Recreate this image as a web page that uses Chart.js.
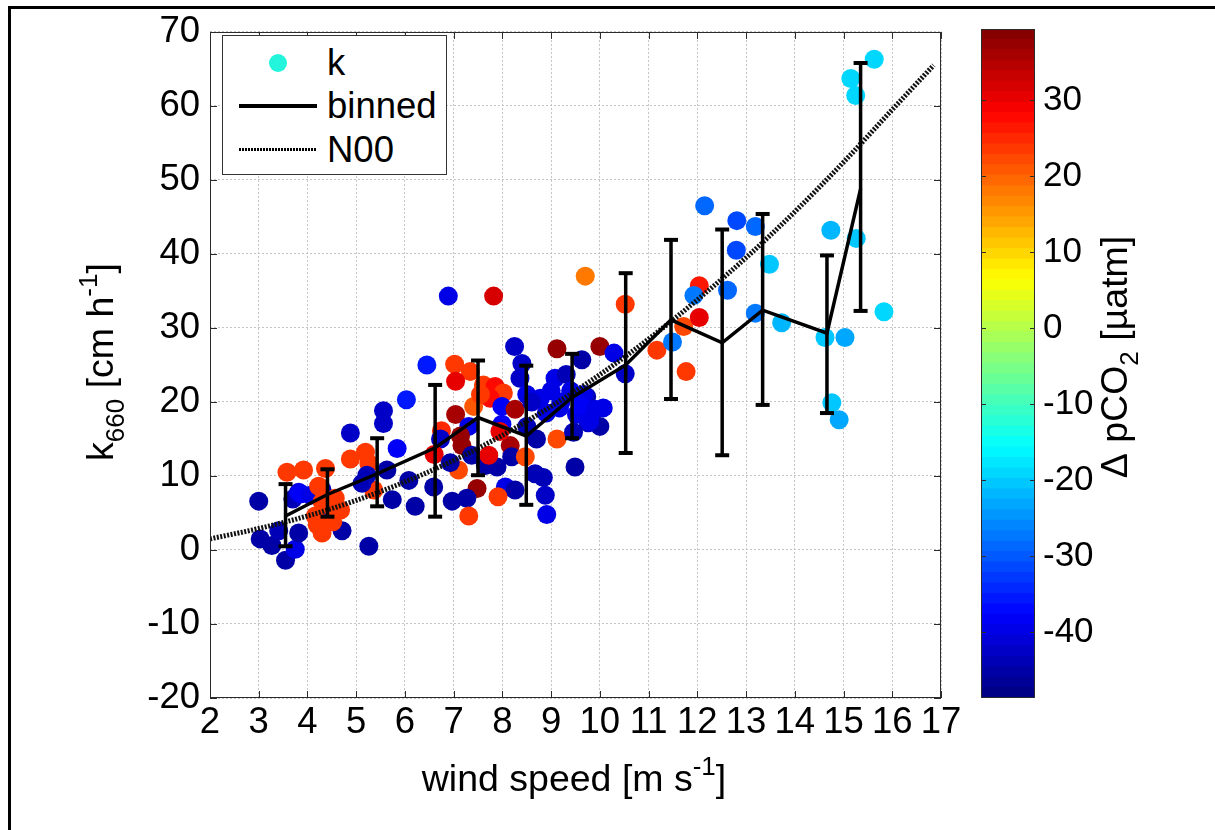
<!DOCTYPE html>
<html><head><meta charset="utf-8">
<script src="https://cdn.jsdelivr.net/npm/chart.js@4.4.0/dist/chart.umd.min.js"></script>
<style>
html,body{margin:0;padding:0;background:#fff;}
#wrap{position:relative;width:1215px;height:830px;overflow:hidden;background:#fff;font-family:"Liberation Sans",Arial,Helvetica,sans-serif;}
#frame{position:absolute;left:8px;top:6px;width:1230px;height:850px;border-left:3px solid #000;border-top:3px solid #000;}
#main{position:absolute;left:0;top:0;}
#cbar{position:absolute;left:960px;top:0;}
#legend{position:absolute;left:222px;top:35px;width:223px;height:138px;border:1px solid #333;background:#fff;z-index:5;}
#legend .t{position:absolute;left:104px;font-size:36.5px;line-height:36px;color:#000;white-space:nowrap;}
#legend .dot{position:absolute;left:46px;top:18px;width:18px;height:18px;border-radius:50%;background:#22f5dc;}
#legend .solid{position:absolute;left:16px;top:68px;width:78px;height:3.5px;background:#000;}
#legend .dotted{position:absolute;left:16px;top:112px;width:78px;height:3px;background:repeating-linear-gradient(90deg,#000 0 2px,#fff 2px 3px);}
</style></head>
<body>
<div id="wrap">
  <div id="frame"></div>
  <canvas id="main" width="975" height="830"></canvas>
  <canvas id="cbar" width="255" height="830"></canvas>
  <div id="legend">
    <div class="dot"></div><div class="t" style="top:9px">k</div>
    <div class="solid"></div><div class="t" style="top:52px">binned</div>
    <div class="dotted"></div><div class="t" style="top:96px">N00</div>
  </div>
</div>
<script>
// ---------------- data ----------------
const xTicks = [2,3,4,5,6,7,8,9,10,11,12,13,14,15,16,17];
const yTicks = [-20,-10,0,10,20,30,40,50,60,70];
const cbTicks = [-40,-30,-20,-10,0,10,20,30];
const CB_MIN = -48.7, CB_MAX = 39.4;

// scatter: wind speed, k660, delta pCO2
const ptX = [3.00,3.03,3.27,3.41,3.55,3.75,3.82,3.70,3.82,3.86,4.06,4.30,4.44,4.71,5.26,
  3.58,3.92,4.37,4.23,4.57,4.68,4.30,4.16,4.45,4.30,4.88,5.19,5.26,5.36,
  5.22,5.12,5.63,5.74,5.84,6.08,6.03,5.56,5.56,4.88,
  6.89,7.82,8.25,6.45,7.02,7.34,7.04,8.40,8.36,7.61,7.85,8.02,7.41,7.75,7.99,7.04,8.26,
  7.31,7.14,7.17,6.75,6.73,6.60,8.16,8.19,8.47,7.37,7.65,7.89,7.72,7.10,6.93,
  6.59,7.48,8.06,8.26,8.67,8.84,8.88,9.49,7.91,6.97,7.27,6.21,7.31,8.91,
  8.50,8.78,9.08,9.31,9.73,10.07,10.00,9.76,9.52,7.99,8.50,8.70,9.12,9.46,
  9.12,10.00,9.63,10.29,10.52,9.67,9.17,9.79,9.00,9.20,8.90,9.60,9.90,9.40,9.70,10.52,8.60,
  4.52,4.20,7.55,7.95,
  11.17,11.49,11.72,11.77,12.04,11.93,12.04,12.15,12.81,13.19,12.80,13.48,12.62,13.19,13.73,
  14.74,15.26,14.62,15.03,14.76,14.91,15.15,15.25,15.63,15.83];
const ptY = [6.6,1.5,0.6,2.6,-1.4,0.1,2.3,6.9,7.8,7.6,7.4,8.1,4.8,2.6,0.5,
  10.5,10.8,11.0,8.6,7.0,5.4,2.3,4.6,6.0,6.5,12.3,13.2,11.7,8.1,
  10.1,9.0,10.8,6.8,13.7,9.4,20.3,18.8,17.1,15.8,
  34.3,34.3,27.5,25.0,25.1,24.1,22.8,25.2,23.2,22.3,22.1,21.2,19.4,20.5,19.4,18.3,19.0,
  16.7,15.4,14.1,16.1,15.0,12.9,14.1,12.6,12.6,12.8,11.4,11.2,12.8,10.8,11.8,
  8.5,8.3,8.5,8.1,10.3,9.8,7.4,11.2,7.2,6.6,7.0,5.9,4.6,4.8,
  21.0,20.5,23.2,23.7,20.7,19.2,16.7,17.2,18.3,17.0,16.7,15.0,15.0,15.9,
  27.2,27.5,25.7,26.6,23.8,21.0,19.2,17.4,21.5,20.0,18.5,19.5,19.0,21.5,37.0,33.2,20.0,
  3.8,3.4,21.0,16.0,
  27.0,28.1,30.2,24.1,35.7,34.4,31.4,46.5,44.5,43.7,40.5,38.6,35.1,32.0,30.7,
  43.2,42.1,28.7,28.7,19.9,17.6,63.7,61.4,66.3,32.2];
const ptD = [-45,-45,-45,-44,-45,-40,-45,-44,-40,-38,-40,-44,-40,-45,-45,
  23,23,23,23,23,23,23,23,23,23,23,23,23,23,
  -44,-44,-45,-45,-38,-45,-36,-42,-42,-42,
  -40,32,-43,-36,23,23,30,-42,-42,23,28,23,21,28,-38,36,36,
  -40,37,37,25,-42,30,36,-45,22,-45,-45,-45,30,22,-45,
  -45,37,-40,-45,-44,-44,-42,-45,24,-45,-45,-45,24,-40,
  -40,-40,-40,-44,-44,-40,-45,-42,-40,-38,-44,-45,22,-44,
  37,37,-45,-40,-42,-40,-40,-40,-40,-40,-40,-38,-40,-40,18,24,-42,
  23,23,23,30,
  23,-28,22,23,26,-28,31,-29,-31,-29,-31,-21,-29,-28,-22,
  -22,-21,-20,-23,-21,-23,-19,-19,-19,-19];

// binned means with error bars
const binX  = [3.55,4.41,5.43,6.62,7.50,8.49,9.43,10.53,11.46,12.51,13.34,14.66,15.35];
const binY  = [4.6,7.5,10.3,13.8,17.9,15.4,20.6,25.0,31.1,28.0,32.4,29.3,48.8];
const binLo = [0.5,4.5,5.9,4.5,10.1,6.1,15.1,13.1,20.4,12.8,19.6,18.5,32.3];
const binHi = [8.9,10.9,15.1,22.3,25.6,24.9,26.5,37.4,41.9,43.3,45.4,39.8,65.8];

// N00 curve
const n00X = [2,3,4,5,6,7,8,9,10,11,12,13,14,15,16,16.85];
const n00Y = [1.5,2.9,4.6,6.7,9.2,12.1,15.5,19.4,23.7,28.5,33.8,39.5,45.7,52.4,59.5,65.5];

// ---------------- helpers ----------------
const FONT = '"Liberation Sans", Arial, Helvetica, sans-serif';
const FS = 36.5;   // tick labels
const FT = 37.5;   // axis titles
function clamp(v){return Math.max(0,Math.min(1,v));}
function jet(t){
  const r = clamp(1.5-Math.abs(4*t-3)), g = clamp(1.5-Math.abs(4*t-2)), b = clamp(1.5-Math.abs(4*t-1));
  return 'rgb('+Math.round(r*255)+','+Math.round(g*255)+','+Math.round(b*255)+')';
}
const NLEV = 64;
function colorFor(d){
  let i = Math.floor((d-CB_MIN)/(CB_MAX-CB_MIN)*NLEV);
  i = Math.max(0,Math.min(NLEV-1,i));
  return jet((i+0.5)/NLEV);
}
function drawRich(ctx, parts, cx, by, rot, size){
  ctx.save();
  ctx.translate(cx, by); ctx.rotate(rot);
  const small = Math.round(size*0.7);
  let w = 0;
  parts.forEach(p=>{ctx.font=(p.s?small:size)+'px '+FONT; p.w=ctx.measureText(p.t).width; w+=p.w;});
  let x = -w/2;
  ctx.fillStyle='#000'; ctx.textAlign='left'; ctx.textBaseline='alphabetic';
  parts.forEach(p=>{
    ctx.font=(p.s?small:size)+'px '+FONT;
    const dy = p.s==='sub'? size*0.28 : (p.s==='sup'? -size*0.42 : 0);
    ctx.fillText(p.t, x, dy); x+=p.w;
  });
  ctx.restore();
}

// ---------------- main chart ----------------
const scatterData = ptX.map((x,i)=>({x:x, y:ptY[i]}));
const scatterColors = ptD.map(colorFor);
const errData = [];
binX.forEach((x,i)=>{ errData.push({x:x,y:binLo[i]}); errData.push({x:x,y:binHi[i]}); errData.push({x:x,y:null}); });
const binData = binX.map((x,i)=>({x:x,y:binY[i]}));
const n00Data = n00X.map((x,i)=>({x:x,y:n00Y[i]}));

const boxPlugin = {
  id:'boxPlugin',
  afterDraw(chart){
    const {ctx, chartArea:a, scales:{x,y}} = chart;
    ctx.save();
    ctx.strokeStyle='#2b2b2b'; ctx.lineWidth=1;
    ctx.strokeRect(Math.round(a.left)+0.5, Math.round(a.top)+0.5, Math.round(a.right-a.left)-1, Math.round(a.bottom-a.top)-1);
    ctx.beginPath();
    xTicks.forEach(v=>{const p=Math.round(x.getPixelForValue(v))+0.5; ctx.moveTo(p,a.bottom); ctx.lineTo(p,a.bottom-7); ctx.moveTo(p,a.top); ctx.lineTo(p,a.top+7);});
    yTicks.forEach(v=>{const p=Math.round(y.getPixelForValue(v))+0.5; ctx.moveTo(a.left,p); ctx.lineTo(a.left+7,p); ctx.moveTo(a.right,p); ctx.lineTo(a.right-7,p);});
    ctx.stroke();
    drawRich(ctx,[{t:'k'},{t:'660',s:'sub'},{t:' [cm h'},{t:'-1',s:'sup'},{t:']'}], 113, 362, -Math.PI/2, FT);
    drawRich(ctx,[{t:'wind speed [m s'},{t:'-1',s:'sup'},{t:']'}], 574, 791, 0, FT);
    ctx.restore();
  }
};

new Chart(document.getElementById('main'), {
  type:'scatter',
  data:{datasets:[
    {label:'err', data:errData, showLine:true, borderColor:'#000', borderWidth:3.5, pointStyle:'line', pointRadius:7, pointBorderWidth:4, pointBorderColor:'#000', spanGaps:false},
    {label:'binned', data:binData, showLine:true, borderColor:'#000', borderWidth:3.5, pointRadius:0},
    {label:'N00', data:n00Data, showLine:true, borderColor:'#111', borderWidth:5, borderDash:[2,1.5], pointRadius:0, cubicInterpolationMode:'monotone'},
    {label:'k', data:scatterData, backgroundColor:scatterColors, borderWidth:0, pointRadius:9.5, pointHoverRadius:9.5}
  ]},
  options:{
    responsive:false, animation:false, devicePixelRatio:1,
    layout:{padding:{left:0,top:22,right:34,bottom:0}},
    plugins:{legend:{display:false}, tooltip:{enabled:false}},
    scales:{
      x:{type:'linear', min:2, max:17,
         afterBuildTicks:s=>{s.ticks=xTicks.map(v=>({value:v}));},
         afterFit:s=>{s.height=132;},
         ticks:{font:{family:FONT,size:FS}, color:'#000', padding:3, maxRotation:0, autoSkip:false},
         grid:{color:'#c4c4c4', lineWidth:1, drawTicks:false},
         border:{display:false, dash:[2,2]}},
      y:{type:'linear', min:-20, max:70,
         afterBuildTicks:s=>{s.ticks=yTicks.map(v=>({value:v}));},
         afterFit:s=>{s.width=210;},
         ticks:{font:{family:FONT,size:FS}, color:'#000', padding:10},
         grid:{color:'#c4c4c4', lineWidth:1, drawTicks:false},
         border:{display:false, dash:[2,2]}}
    }
  },
  plugins:[boxPlugin]
});

// ---------------- colorbar ----------------
const step = (CB_MAX-CB_MIN)/NLEV;
const bands = [];
for(let i=0;i<NLEV;i++){
  const lo = CB_MIN+i*step, hi = Math.min(CB_MAX, lo+step*1.02);
  bands.push({data:[[lo,hi]], backgroundColor:jet((i+0.5)/NLEV), borderWidth:0, barPercentage:1, categoryPercentage:1, grouped:false, borderSkipped:false});
}
const cbPlugin = {
  id:'cbPlugin',
  afterDraw(chart){
    const {ctx, chartArea:a, scales:{y}} = chart;
    ctx.save();
    ctx.strokeStyle='#2b2b2b'; ctx.lineWidth=1;
    ctx.strokeRect(Math.round(a.left)+0.5, Math.round(a.top)+0.5, Math.round(a.right-a.left)-1, Math.round(a.bottom-a.top)-1);
    ctx.beginPath();
    cbTicks.forEach(v=>{const p=Math.round(y.getPixelForValue(v))+0.5; ctx.moveTo(a.left,p); ctx.lineTo(a.left+5,p); ctx.moveTo(a.right,p); ctx.lineTo(a.right-5,p);});
    ctx.stroke();
    drawRich(ctx,[{t:'\u0394 pCO'},{t:'2',s:'sub'},{t:' [\u00b5atm]'}], 167, 357, -Math.PI/2, FT);
    ctx.restore();
  }
};
new Chart(document.getElementById('cbar'), {
  type:'bar',
  data:{labels:[''], datasets:bands},
  options:{
    responsive:false, animation:false, devicePixelRatio:1,
    layout:{padding:{left:21,top:22,right:0,bottom:132}},
    plugins:{legend:{display:false}, tooltip:{enabled:false}},
    scales:{
      x:{display:false},
      y:{position:'right', min:CB_MIN, max:CB_MAX,
         afterBuildTicks:s=>{s.ticks=cbTicks.map(v=>({value:v}));},
         afterFit:s=>{s.width=180;},
         ticks:{font:{family:FONT,size:35}, color:'#000', padding:8},
         grid:{display:false, drawTicks:false},
         border:{display:false}}
    }
  },
  plugins:[cbPlugin]
});
</script>
</body></html>
